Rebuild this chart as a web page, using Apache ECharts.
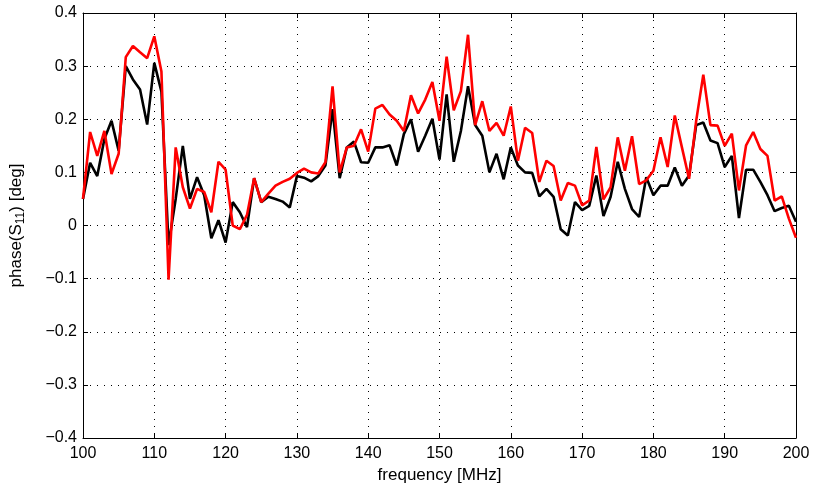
<!DOCTYPE html>
<html>
<head>
	<meta charset="UTF-8">
	<title>phase(S11)</title>
	<script src="https://cdn.jsdelivr.net/npm/echarts@6/dist/echarts.min.js"></script>
	<style>
		html, body { margin:0; padding:0; background:#fff; }
		#chart { width:813px; height:489px; }
	</style>
</head>
<body>
<div id="chart"></div>

<script type="text/javascript">
	var freq = [100,101,102,103,104,105,106,107,108,109,110,111,112,113,114,115,116,117,118,119,
		120,121,122,123,124,125,126,127,128,129,130,131,132,133,134,135,136,137,138,139,
		140,141,142,143,144,145,146,147,148,149,150,151,152,153,154,155,156,157,158,159,
		160,161,162,163,164,165,166,167,168,169,170,171,172,173,174,175,176,177,178,179,
		180,181,182,183,184,185,186,187,188,189,190,191,192,193,194,195,196,197,198,199,200];

	// black trace
	var phaseBlack = [0.050,0.118,0.093,0.163,0.197,0.141,0.300,0.275,0.256,0.190,
		0.306,0.252,-0.037,0.050,0.150,0.050,0.091,0.057,-0.024,0.010,
		-0.032,0.044,0.025,-0.003,0.089,0.044,0.054,0.050,0.045,0.034,
		0.093,0.090,0.083,0.093,0.113,0.219,0.089,0.147,0.158,0.119,
		0.118,0.147,0.147,0.151,0.113,0.172,0.200,0.139,0.169,0.201,
		0.124,0.247,0.120,0.178,0.262,0.189,0.169,0.100,0.135,0.087,
		0.147,0.113,0.100,0.099,0.055,0.069,0.054,-0.007,-0.019,0.044,
		0.029,0.037,0.094,0.018,0.054,0.120,0.069,0.031,0.016,0.091,
		0.057,0.075,0.075,0.109,0.075,0.094,0.189,0.194,0.160,0.155,
		0.110,0.131,0.014,0.105,0.105,0.082,0.057,0.027,0.033,0.037,0.007];

	// red trace
	var phaseRed = [0.050,0.176,0.131,0.178,0.097,0.135,0.317,0.338,0.326,0.315,
		0.356,0.290,-0.102,0.147,0.072,0.032,0.069,0.063,0.025,0.120,
		0.105,0.000,-0.007,0.020,0.089,0.044,0.060,0.075,0.082,0.088,
		0.099,0.107,0.100,0.098,0.119,0.262,0.100,0.147,0.150,0.181,
		0.139,0.220,0.227,0.209,0.197,0.178,0.245,0.211,0.237,0.270,
		0.197,0.318,0.217,0.253,0.359,0.189,0.234,0.178,0.193,0.169,
		0.224,0.122,0.184,0.174,0.082,0.122,0.112,0.047,0.080,0.075,
		0.038,0.047,0.148,0.049,0.072,0.166,0.103,0.168,0.078,0.085,
		0.103,0.166,0.110,0.207,0.147,0.088,0.197,0.284,0.189,0.188,
		0.150,0.173,0.066,0.151,0.176,0.144,0.131,0.047,0.055,0.013,-0.023];

	var fontName = '"Liberation Sans", Arial, sans-serif';

	function pairs(values)
	{
		var out = [];
		for (var i = 0; i < freq.length; i++) out.push([freq[i], values[i]]);
		return out;
	}

	function minus(v)
	{
		return String(Math.round(v * 10) / 10).replace('-', '\u2212');
	}

	var boxAxis = { show: true, onZero: false, lineStyle: { color: '#000', width: 1 } };
	var boxTick = { show: true, inside: true, length: 5, lineStyle: { color: '#000' } };
	var dotted = { show: true, lineStyle: { color: '#000', width: 1, type: [1, 6] } };

	var chart = echarts.init(document.getElementById('chart'));
	var option =
	{
		animation: false,
		backgroundColor: '#fff',
		grid: { left: 83, right: 17, top: 13, bottom: 48 },
		xAxis:
		[{
			type: 'value', min: 100, max: 200, interval: 10,
			name: 'frequency [MHz]', nameLocation: 'middle', nameGap: 29,
			nameTextStyle: { color: '#000', fontSize: 17, fontFamily: fontName },
			axisLine: boxAxis,
			axisTick: boxTick,
			axisLabel: { color: '#000', fontSize: 16, fontFamily: fontName, margin: 8 },
			splitLine: dotted
		},
		{
			type: 'value', min: 100, max: 200, interval: 10, position: 'top',
			axisLine: boxAxis,
			axisTick: boxTick,
			axisLabel: { show: false },
			splitLine: { show: false }
		}],
		yAxis:
		[{
			type: 'value', min: -0.4, max: 0.4, interval: 0.1,
			name: 'phase(S{sub|11}) [deg]', nameLocation: 'middle', nameGap: 56,
			nameTextStyle:
			{
				color: '#000', fontSize: 17, fontFamily: fontName,
				rich: { sub: { fontSize: 12, fontFamily: fontName, color: '#000', padding: [9, 0, 0, 0] } }
			},
			axisLine: boxAxis,
			axisTick: boxTick,
			axisLabel: { color: '#000', fontSize: 16, fontFamily: fontName, margin: 6, formatter: minus },
			splitLine: dotted
		},
		{
			type: 'value', min: -0.4, max: 0.4, interval: 0.1, position: 'right',
			axisLine: boxAxis,
			axisTick: boxTick,
			axisLabel: { show: false },
			splitLine: { show: false }
		}],
		series:
		[{
			type: 'line', data: pairs(phaseBlack), showSymbol: false,
			lineStyle: { color: '#000', width: 2.6 }, z: 3
		},
		{
			type: 'line', data: pairs(phaseRed), showSymbol: false,
			lineStyle: { color: '#ff0000', width: 2.6 }, z: 4
		}]
	};
	chart.setOption(option);
</script>
</body>
</html>
